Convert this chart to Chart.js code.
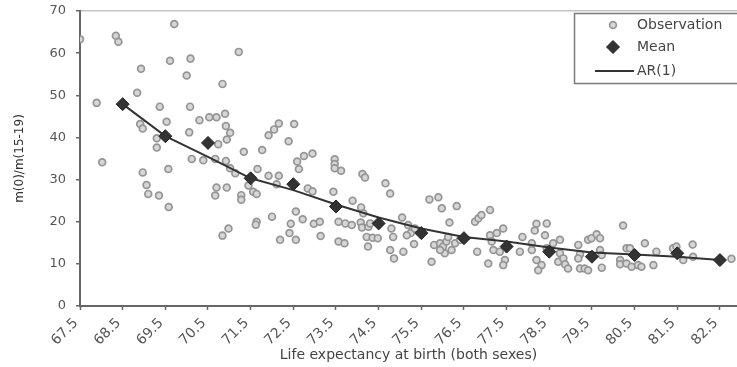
<!DOCTYPE html>
<html>
<head>
<meta charset="utf-8">
<script src="https://cdn.jsdelivr.net/npm/chart.js@4.4.1/dist/chart.umd.min.js"></script>
<style>
html,body{margin:0;padding:0;background:#fff;}
#wrap{width:737px;height:367px;position:relative;}
</style>
</head>
<body>
<div id="wrap"><canvas id="c" width="737" height="367"></canvas></div>
<script>
// ---- data ----
const xTickLabels = ['67.5','68.5','69.5','70.5','71.5','72.5','73.5','74.5','75.5','76.5','77.5','78.5','79.5','80.5','81.5','82.5'];
const yTickValues = [0,10,20,30,40,50,60,70];
const seriesLabels = ['Observation','Mean','AR(1)'];
const xTitle = 'Life expectancy at birth (both sexes)';
const yTitle = 'm(0)/m(15-19)';

const obsX = [
 67.50,67.89,68.02,68.34,68.40,68.84,68.93,68.91,68.97,68.97,69.06,69.10,69.30,69.30,69.37,69.35,69.53,69.57,69.58,69.61,
 69.71,70.00,70.08,70.09,70.06,70.12,70.30,70.39,70.53,70.67,70.70,70.74,70.84,70.90,70.92,70.94,70.92,70.70,70.94,70.67,
 70.84,70.98,
 71.02,71.02,71.14,71.22,71.34,71.66,71.77,71.92,71.92,72.05,72.16,72.16,72.39,72.52,72.59,72.63,72.75,72.95,73.47,73.47,
 73.47,73.62,74.12,74.18,71.28,71.28,71.45,71.56,71.64,71.64,71.62,72.00,72.11,72.19,72.41,72.44,72.56,72.56,72.72,72.84,
 72.95,72.98,73.12,73.14,73.44,73.56,73.56,73.70,73.72,73.87,73.89,74.08,74.09,74.11,74.14,74.22,74.25,74.26,74.36,74.30,
 74.48,74.66,74.77,
 74.80,74.84,74.77,74.86,75.08,75.05,75.19,75.25,75.35,75.33,75.16,75.69,75.90,75.98,75.74,75.80,75.94,76.01,76.09,76.13,
 76.21,76.29,76.05,75.94,76.16,76.33,76.41,76.76,76.84,76.91,77.11,76.81,77.07,77.11,77.15,77.27,77.42,77.19,77.34,77.46,
 77.42,77.87,77.81,78.20,78.44,78.16,78.40,78.09,78.09,78.20,78.32,78.24,78.44,78.71,78.75,78.59,
 78.75,78.83,78.87,78.94,79.18,79.22,79.18,79.22,79.33,79.41,79.41,79.49,79.61,79.69,79.69,79.73,79.73,80.23,80.16,80.31,
 80.39,80.16,80.31,80.43,80.58,80.66,80.74,80.94,81.01,81.40,81.48,81.64,81.86,81.87,82.77
];
const obsY = [
 63.3,48.2,34.1,64.1,62.7,50.6,56.3,43.2,42.1,31.7,28.7,26.6,39.8,37.6,47.3,26.2,43.7,32.5,23.5,58.2,
 66.9,54.7,47.3,58.7,41.2,34.9,44.1,34.6,44.8,34.9,44.8,38.4,52.7,45.6,42.7,39.5,34.4,28.1,28.1,26.2,
 16.7,18.4,
 41.1,32.7,31.5,60.3,36.6,32.5,37.0,40.5,30.9,41.9,43.3,30.9,39.1,43.2,34.3,32.5,35.6,36.2,34.8,33.7,
 32.7,32.1,31.3,30.5,26.3,25.2,28.6,27.1,26.6,20.0,19.3,21.2,28.9,15.7,17.3,19.5,15.7,22.4,20.6,27.9,
 27.2,19.5,20.0,16.6,27.1,20.0,15.3,14.9,19.6,19.2,25.0,19.8,23.4,18.6,22.0,16.4,14.1,18.8,16.2,19.6,
 16.1,29.1,26.7,
 18.4,16.4,13.3,11.3,12.9,21.0,19.2,17.3,18.4,14.7,16.8,25.3,25.8,23.2,10.5,14.5,14.9,14.1,15.3,16.4,
 13.3,14.9,12.5,13.3,19.8,23.7,15.7,20.0,20.8,21.6,22.8,12.9,10.1,16.8,15.3,17.3,18.4,13.3,12.9,10.9,
 9.7,16.4,12.9,19.5,19.6,17.9,16.8,14.9,13.3,10.9,9.7,8.5,13.7,10.5,12.5,14.9,
 15.7,11.3,9.9,8.9,14.5,12.3,11.3,8.9,8.9,8.5,15.7,16.1,17.0,16.1,13.3,9.1,12.1,19.1,10.9,13.7,
 13.7,9.9,10.1,9.3,9.7,9.3,14.9,9.7,12.9,13.7,14.1,10.9,14.6,11.7,11.2
];

const meanX = [68.5,69.5,70.5,71.5,72.5,73.5,74.5,75.5,76.5,77.5,78.5,79.5,80.5,81.5,82.5];
const meanY = [47.9,40.3,38.7,30.3,28.9,23.6,19.6,17.3,16.1,14.1,12.9,11.7,12.1,12.5,10.9];

const arX = [68.5,69.5,70.5,71.5,72.5,73.5,74.5,75.5,76.5,77.5,78.5,79.5,80.5,81.5,82.5];
const arY = [47.9,40.3,35.4,30.3,27.5,24.1,21.0,18.4,16.4,15.3,13.9,12.7,12.2,11.7,10.9];

// ---- build chart ----
const zip = (xs, ys) => xs.map((x, i) => ({x: x, y: ys[i]}));
const FONT = 'DejaVu Sans';
const noPad = a => { a.paddingLeft = 0; a.paddingRight = 0; a.paddingTop = 0; a.paddingBottom = 0; };

const boxLegend = {
  id: 'boxLegend',
  afterDraw(chart) {
    const ctx = chart.ctx;
    const H = Chart.helpers;
    ctx.save();
    const x0 = 574.5, y0 = 13.5, w = 170, h = 70;
    ctx.fillStyle = '#fff';
    ctx.fillRect(x0, y0, w, h);
    ctx.strokeStyle = '#7a7a7a';
    ctx.lineWidth = 1.5;
    ctx.strokeRect(x0, y0, w, h);
    const rows = [25, 47, 71];
    ctx.font = '14px "' + FONT + '"';
    ctx.textBaseline = 'middle';
    chart.data.datasets.forEach((ds, i) => {
      const y = rows[i];
      if (ds.showLine) {
        ctx.strokeStyle = ds.borderColor;
        ctx.lineWidth = ds.borderWidth;
        ctx.beginPath(); ctx.moveTo(595, y); ctx.lineTo(634, y); ctx.stroke();
      } else {
        ctx.fillStyle = ds.backgroundColor;
        ctx.strokeStyle = ds.borderColor;
        ctx.lineWidth = ds.borderWidth;
        H.drawPoint(ctx, {pointStyle: ds.pointStyle, radius: ds.pointRadius, rotation: 0, borderWidth: ds.borderWidth}, 613, y);
      }
      ctx.fillStyle = '#444';
      ctx.textAlign = 'left';
      ctx.fillText(ds.label, 637, y);
    });
    ctx.restore();
  }
};

new Chart(document.getElementById('c'), {
  type: 'scatter',
  data: {
    datasets: [
      {label: seriesLabels[0], data: zip(obsX, obsY), pointStyle: 'circle', pointRadius: 3.4,
       borderWidth: 1.7, borderColor: '#959595', backgroundColor: '#d6d6d6', order: 3},
      {label: seriesLabels[1], data: zip(meanX, meanY), pointStyle: 'rectRot', pointRadius: 6.5,
       borderWidth: 1, borderColor: '#222', backgroundColor: '#333', order: 1},
      {label: seriesLabels[2], data: zip(arX, arY), type: 'line', showLine: true, pointRadius: 0,
       borderWidth: 2, borderColor: '#333', backgroundColor: '#333', tension: 0, fill: false, order: 2}
    ]
  },
  options: {
    responsive: false,
    animation: false,
    events: [],
    layout: {autoPadding: false, padding: {top: 11, right: 0, left: 0, bottom: 0}},
    plugins: {legend: {display: false}, tooltip: {enabled: false}},
    scales: {
      x: {
        type: 'linear', min: 67.5, max: 82.9, bounds: 'data',
        afterBuildTicks: a => { a.ticks = xTickLabels.map(s => ({value: parseFloat(s)})); },
        afterFit: a => { a.height = 61; noPad(a); },
        ticks: {
          autoSkip: false, minRotation: 45, maxRotation: 45, padding: 5, labelOffset: -4,
          color: '#555', font: {family: FONT, size: 14},
          callback: (v) => xTickLabels.find(s => parseFloat(s) === v) || ''
        },
        grid: {display: true, drawOnChartArea: false, drawTicks: true, tickLength: 4, tickColor: '#666', tickWidth: 1.5},
        border: {display: true, color: '#666', width: 2},
        title: {display: true, text: xTitle, color: '#444', font: {family: FONT, size: 14}, padding: {top: 4, bottom: 3}}
      },
      y: {
        type: 'linear', min: 0, max: 70, bounds: 'data',
        afterBuildTicks: a => { a.ticks = yTickValues.map(v => ({value: v})); },
        afterFit: a => { a.width = 80; noPad(a); },
        ticks: {color: '#555', font: {family: FONT, size: 13}, padding: 10},
        grid: {
          display: true, drawOnChartArea: true, drawTicks: true, tickLength: 4, tickColor: '#666', tickWidth: 1.5,
          color: c => (c.tick && c.tick.value === 70) ? '#c4c4c4' : 'rgba(0,0,0,0)', lineWidth: 1.5
        },
        border: {display: true, color: '#666', width: 2},
        title: {display: true, text: yTitle, color: '#333', font: {family: FONT, size: 12}, padding: {top: 13, bottom: 0}}
      }
    }
  },
  plugins: [boxLegend]
});
</script>
</body>
</html>
